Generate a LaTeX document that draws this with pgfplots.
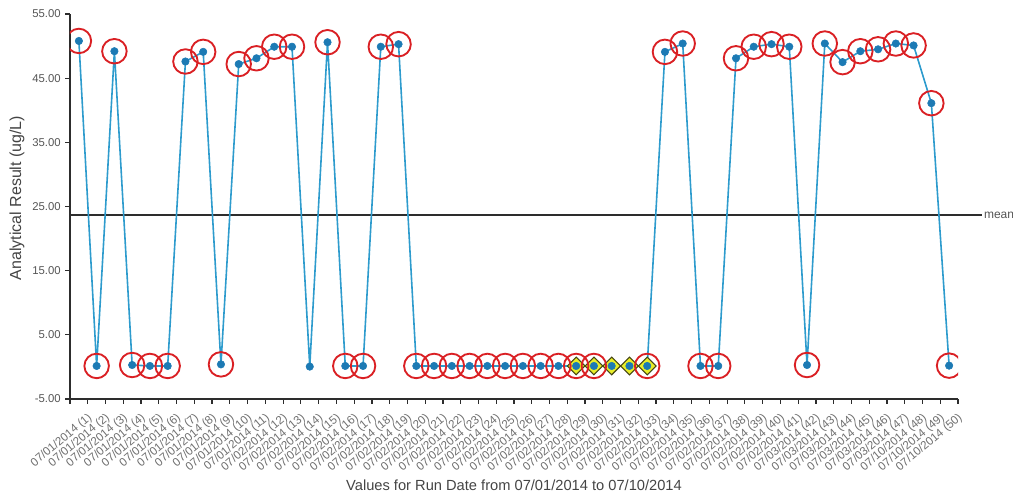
\documentclass[border=0pt]{standalone}
\usepackage{pgfplots}
\pgfplotsset{compat=1.18}
\usepackage{pgfplotstable}
\usepackage{fontspec}
\setmainfont{Liberation Sans}

\definecolor{lineblue}{RGB}{45,155,205}
\definecolor{dotblue}{RGB}{28,122,180}
\definecolor{ringred}{RGB}{218,32,36}
\definecolor{flagyellow}{RGB}{232,238,40}
\definecolor{flagedge}{RGB}{70,70,20}
\definecolor{axisgray}{RGB}{45,45,45}
\definecolor{textgray}{RGB}{85,85,85}

% run, result, circled result (nan = no ring), flagged result (nan = no diamond)
\pgfplotstableread{
x  val   circ  dia
1  50.8  50.8  nan
2  0.15  0.15  nan
3  49.2  49.2  nan
4  0.30  0.30  nan
5  0.15  0.15  nan
6  0.15  0.15  nan
7  47.6  47.6  nan
8  49.1  49.1  nan
9  0.40  0.40  nan
10 47.2  47.2  nan
11 48.1  48.1  nan
12 49.9  49.9  nan
13 49.9  49.9  nan
14 0.05  nan   nan
15 50.6  50.6  nan
16 0.15  0.15  nan
17 0.15  0.15  nan
18 49.9  49.9  nan
19 50.3  50.3  nan
20 0.15  0.15  nan
21 0.15  0.15  nan
22 0.15  0.15  nan
23 0.15  0.15  nan
24 0.15  0.15  nan
25 0.15  0.15  nan
26 0.15  0.15  nan
27 0.15  0.15  nan
28 0.15  0.15  nan
29 0.15  0.15  0.15
30 0.15  0.15  0.15
31 0.15  nan   0.15
32 0.15  nan   0.15
33 0.15  0.15  0.15
34 49.1  49.1  nan
35 50.4  50.4  nan
36 0.15  0.15  nan
37 0.15  0.15  nan
38 48.1  48.1  nan
39 49.9  49.9  nan
40 50.3  50.3  nan
41 49.9  49.9  nan
42 0.30  0.30  nan
43 50.4  50.4  nan
44 47.5  47.5  nan
45 49.2  49.2  nan
46 49.5  49.5  nan
47 50.4  50.4  nan
48 50.1  50.1  nan
49 41.1  41.1  nan
50 0.20  0.20  nan
}\results

\pgfplotsset{
  runaxis/.style={
    scale only axis,
    width=666pt, height=288.75pt,
    xmin=0.5, xmax=50.5,
    ymin=-5, ymax=55,
  },
}

\begin{document}
\begin{tikzpicture}
% mean line, drawn first and unclipped so it runs past the axis end
\begin{axis}[runaxis, hide axis, clip=false]
\addplot[axisgray, line width=1.1pt] coordinates {(0.5,23.7) (51.85,23.7)}
  node[right, inner sep=1pt, font=\fontsize{9}{10}\selectfont, text=textgray] {mean};
\end{axis}

\begin{axis}[runaxis,
  clip marker paths=true,
  axis x line*=bottom, axis y line*=left,
  axis line style={axisgray, line width=1.1pt},
  tick align=outside,
  major tick length=3.5pt,
  tick style={axisgray, line width=0.9pt},
  ytick={-5,5,...,55},
  /pgf/number format/.cd, fixed, fixed zerofill, precision=2, assume math mode=true,
  /pgfplots/.cd,
  yticklabel style={font=\fontsize{8.5}{10}\selectfont, text=textgray},
  xtick={0.5,1.5,...,50.5},
  xticklabels={,
    {07/01/2014 (1)},{07/01/2014 (2)},{07/01/2014 (3)},{07/01/2014 (4)},{07/01/2014 (5)},
    {07/01/2014 (6)},{07/01/2014 (7)},{07/01/2014 (8)},{07/01/2014 (9)},{07/01/2014 (10)},
    {07/01/2014 (11)},{07/02/2014 (12)},{07/02/2014 (13)},{07/02/2014 (14)},{07/02/2014 (15)},
    {07/02/2014 (16)},{07/02/2014 (17)},{07/02/2014 (18)},{07/02/2014 (19)},{07/02/2014 (20)},
    {07/02/2014 (21)},{07/02/2014 (22)},{07/02/2014 (23)},{07/02/2014 (24)},{07/02/2014 (25)},
    {07/02/2014 (26)},{07/02/2014 (27)},{07/02/2014 (28)},{07/02/2014 (29)},{07/02/2014 (30)},
    {07/02/2014 (31)},{07/02/2014 (32)},{07/02/2014 (33)},{07/02/2014 (34)},{07/02/2014 (35)},
    {07/02/2014 (36)},{07/02/2014 (37)},{07/02/2014 (38)},{07/02/2014 (39)},{07/02/2014 (40)},
    {07/02/2014 (41)},{07/03/2014 (42)},{07/03/2014 (43)},{07/03/2014 (44)},{07/03/2014 (45)},
    {07/03/2014 (46)},{07/03/2014 (47)},{07/10/2014 (48)},{07/10/2014 (49)},{07/10/2014 (50)}},
  xticklabel style={rotate=40, anchor=north east, xshift=-1pt, yshift=-1pt,
    font=\fontsize{8.7}{10}\selectfont, text=textgray!85},
  xlabel={Values for Run Date from 07/01/2014 to 07/10/2014},
  ylabel={Analytical Result (ug/L)},
  xlabel style={at={(axis description cs:0.5,-0.2234)}, anchor=center,
    font=\fontsize{11}{13}\selectfont, text=textgray!80!black},
  ylabel style={at={(axis description cs:-0.0597,0.522)}, anchor=center, rotate=0,
    font=\fontsize{12}{14}\selectfont, text=textgray!80!black},
]
\addplot[lineblue, line width=1.2pt, no marks] table[x=x, y=val] {\results};
\addplot[only marks, mark=square*, mark size=4.7pt,
  mark options={rotate=45, fill=flagyellow, draw=flagedge, line width=0.8pt},
  unbounded coords=discard] table[x=x, y=dia] {\results};
\addplot[only marks, mark=o, mark size=9.2pt,
  mark options={draw=ringred, line width=1.4pt},
  unbounded coords=discard] table[x=x, y=circ] {\results};
\addplot[only marks, mark=*, mark size=2.8pt,
  mark options={fill=dotblue, draw=dotblue}] table[x=x, y=val] {\results};
\end{axis}

\pgfresetboundingbox
\path[use as bounding box] (-52.5pt,-73.5pt) rectangle (707.25pt,299.25pt);
\end{tikzpicture}
\end{document}
